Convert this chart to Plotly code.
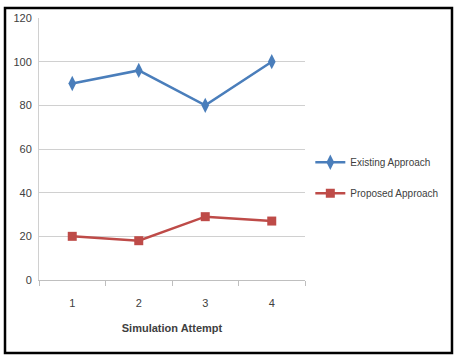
import plotly.graph_objects as go

attempts = ["1", "2", "3", "4"]
existing = [90, 96, 80, 100]
proposed = [20, 18, 29, 27]
y_ticks = [0, 20, 40, 60, 80, 100, 120]

FONT = "Liberation Sans, Arial, sans-serif"

fig = go.Figure()
fig.add_trace(go.Scatter(
    x=attempts, y=existing, name="Existing Approach", mode="lines+markers",
    line=dict(color="#4A7EBB", width=2.5),
    marker=dict(symbol="diamond-tall", size=11, color="#4A7EBB"),
    legendgroup="a",
))
fig.add_trace(go.Scatter(
    x=attempts, y=proposed, name="Proposed Approach", mode="lines+markers",
    line=dict(color="#BE4B48", width=2.5),
    marker=dict(symbol="square", size=9, color="#BE4B48"),
    legendgroup="b",
))

fig.update_layout(
    width=455, height=358,
    margin=dict(l=39, r=150, t=18, b=78, autoexpand=False),
    paper_bgcolor="white", plot_bgcolor="white",
    font=dict(family=FONT, size=11, color="#404040"),
    showlegend=True,
    legend=dict(x=1.02, y=0.39, xanchor="left", yanchor="middle",
                font=dict(family=FONT, size=10, color="#404040"),
                tracegroupgap=12, traceorder="grouped", itemwidth=30,
                bgcolor="rgba(0,0,0,0)"),
    xaxis=dict(type="category", range=[-0.5, 3.5], tickson="boundaries", ticks="outside",
               ticklen=5, tickcolor="#BFBFBF", showline=True, linecolor="#BFBFBF",
               linewidth=1, showgrid=False, zeroline=False,
               ticklabelstandoff=13,
               tickfont=dict(family=FONT, size=11, color="#404040"),
               title=dict(text="<b>Simulation Attempt</b>", standoff=16,
                          font=dict(family=FONT, size=11, color="#404040"))),
    yaxis=dict(range=[0, 120], tickvals=y_ticks, showgrid=True,
               gridcolor="#D0D0D0", gridwidth=1, showline=True,
               linecolor="#D0D0D0", zeroline=False, ticks="",
               ticklabelstandoff=4,
               tickfont=dict(family=FONT, size=11, color="#404040")),
    shapes=[dict(type="rect", xref="paper", yref="paper",
                 x0=-0.1278, x1=1.5526, y0=-0.2786, y1=1.038,
                 line=dict(color="black", width=2.5), fillcolor="rgba(0,0,0,0)",
                 layer="above")],
)

fig.write_html("out.html")
